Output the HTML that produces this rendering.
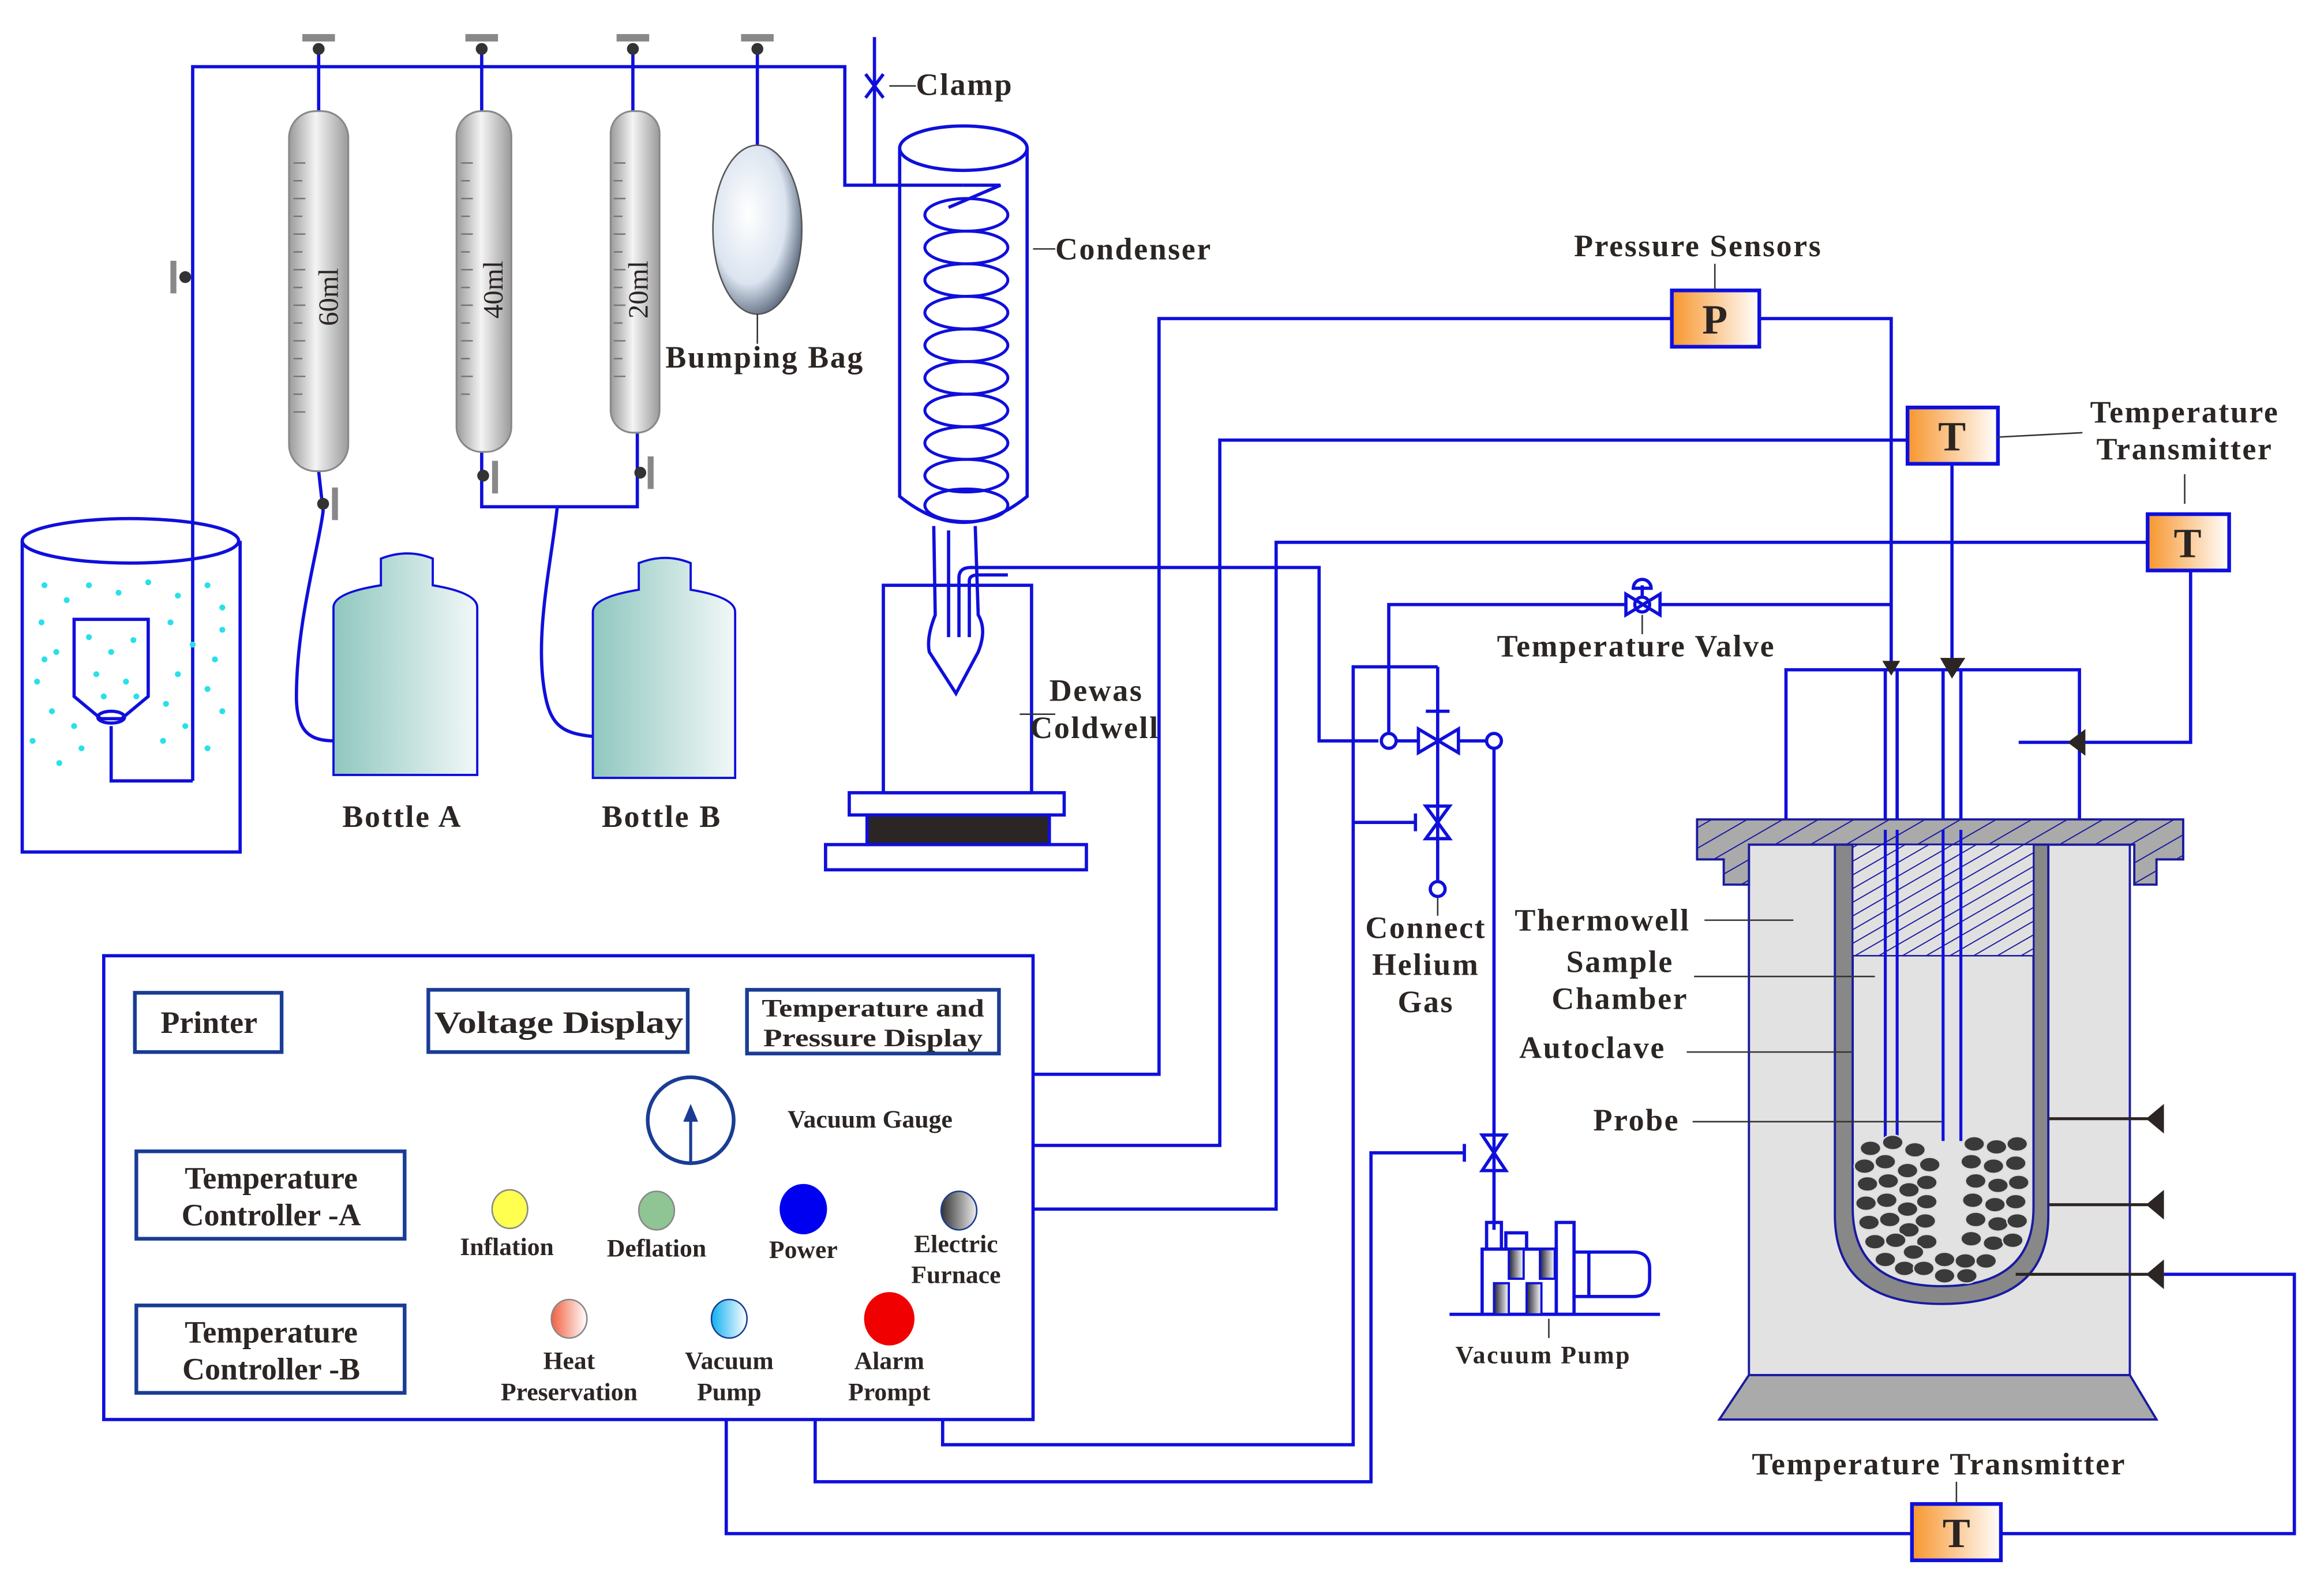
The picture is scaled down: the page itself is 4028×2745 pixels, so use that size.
<!DOCTYPE html>
<html><head><meta charset="utf-8"><style>
html,body{margin:0;padding:0;background:#fff}
svg{display:block}
text{font-family:"Liberation Serif",serif;font-weight:bold;fill:#2b2523}
</style></head><body>
<svg width="4028" height="2745" viewBox="0 0 1568 1069" preserveAspectRatio="none" xmlns="http://www.w3.org/2000/svg">
<defs>
<linearGradient id="gb" x1="0" x2="1"><stop offset="0" stop-color="#9a9a9a"/><stop offset="0.45" stop-color="#f4f4f4"/><stop offset="1" stop-color="#9a9a9a"/></linearGradient>
<linearGradient id="bt" x1="0" x2="1"><stop offset="0" stop-color="#8fc7bf"/><stop offset="1" stop-color="#f2f8f8"/></linearGradient>
<linearGradient id="or" x1="0" x2="1"><stop offset="0" stop-color="#f7962e"/><stop offset="1" stop-color="#fff"/></linearGradient>
<radialGradient id="bag" cx="0.4" cy="0.4" r="0.7"><stop offset="0" stop-color="#fff"/><stop offset="0.6" stop-color="#dbe4f0"/><stop offset="1" stop-color="#3a4a60"/></radialGradient>
<linearGradient id="gr" x1="0" x2="1"><stop offset="0" stop-color="#333"/><stop offset="1" stop-color="#eee"/></linearGradient>
<linearGradient id="hp" x1="0" x2="1"><stop offset="0" stop-color="#f26040"/><stop offset="1" stop-color="#fff"/></linearGradient>
<linearGradient id="vp" x1="0" x2="1"><stop offset="0" stop-color="#10b0f0"/><stop offset="1" stop-color="#fff"/></linearGradient>
<linearGradient id="pm" x1="0" x2="1"><stop offset="0" stop-color="#223"/><stop offset="1" stop-color="#fff"/></linearGradient>
<pattern id="hatch" width="12" height="12" patternUnits="userSpaceOnUse" patternTransform="rotate(-30)"><rect width="12" height="12" fill="#aaa"/><line x1="0" y1="0" x2="12" y2="0" stroke="#1a1aa0" stroke-width="1.5"/></pattern>
<pattern id="hatch2" width="8" height="8" patternUnits="userSpaceOnUse" patternTransform="rotate(60)"><rect width="8" height="8" fill="#e0e0e0"/><line x1="0" y1="0" x2="0" y2="8" stroke="#1a1aa0" stroke-width="1.5"/></pattern>
</defs>
<g fill="none" stroke="#0f0fdc" stroke-width="2.2">
<polyline points="130,527 130,45 570,45 570,125 650,125"/>
<polyline points="75,490 75,527 130,527"/>
<line x1="590" y1="25" x2="590" y2="125"/>
<path d="M584,50 L596,66 M596,50 L584,66"/>
<line x1="215" y1="30" x2="215" y2="80"/><line x1="325" y1="30" x2="325" y2="80"/><line x1="427" y1="30" x2="427" y2="80"/><line x1="511" y1="30" x2="511" y2="100"/>
<path d="M215,318 L218,345 C215,370 200,420 200,470 C200,495 210,500 226,500"/>
<polyline points="325,305 325,342 430,342 430,292"/>
<path d="M376,342 C372,380 360,430 368,470 C372,490 380,495 400,497"/>
<ellipse cx="88" cy="365" rx="73" ry="15"/>
<polyline points="15,365 15,575 162,575 162,365"/>
<path d="M50,418 L100,418 L100,470 L82,485 L68,485 L50,470 Z"/>
<ellipse cx="75" cy="484" rx="9" ry="4"/>
<ellipse cx="650" cy="100" rx="43" ry="15"/>
<path d="M607,100 L607,335 Q650,370 693,335 L693,100"/>
<path d="M650,125 L675,125 L640,140"/>
<g stroke-width="2">
<ellipse cx="652" cy="145" rx="28" ry="11"/><ellipse cx="652" cy="167" rx="28" ry="11"/><ellipse cx="652" cy="189" rx="28" ry="11"/><ellipse cx="652" cy="211" rx="28" ry="11"/><ellipse cx="652" cy="233" rx="28" ry="11"/><ellipse cx="652" cy="255" rx="28" ry="11"/><ellipse cx="652" cy="277" rx="28" ry="11"/><ellipse cx="652" cy="299" rx="28" ry="11"/><ellipse cx="652" cy="321" rx="28" ry="11"/><ellipse cx="652" cy="341" rx="28" ry="11"/>
</g>
<path d="M630,355 L631,415 Q625,430 627,440 L645,468 L660,440 Q666,425 660,415 L658,355"/>
<line x1="640" y1="358" x2="640" y2="430"/>
<path d="M647,430 L647,390 Q647,383 655,383 L695,383 L890,383 L890,500 L930,500"/>
<path d="M654,430 L654,392 Q654,388 660,388 L680,388"/>
<rect x="596" y="395" width="100" height="140"/>
<rect x="573" y="535" width="145" height="15"/>
<rect x="585" y="550" width="123" height="20" fill="#2b2523"/>
<rect x="557" y="570" width="176" height="17"/>
<rect x="70" y="645" width="627" height="313"/>
<polyline points="697,725 782,725 782,215 1128,215"/>
<polyline points="1187,215 1276,215 1276,448"/>
<polyline points="697,773 823,773 823,297 1287,297"/>
<line x1="1317" y1="313" x2="1317" y2="448"/>
<polyline points="697,816 861,816 861,366 1449,366"/>
<polyline points="1478,385 1478,501 1405,501"/>
<line x1="1362" y1="501" x2="1400" y2="501"/>
<polyline points="937,494 937,408 1097,408"/><line x1="1120" y1="408" x2="1276" y2="408"/>
<circle cx="937" cy="500" r="5"/><circle cx="1008" cy="500" r="5"/>
<line x1="942" y1="500" x2="957" y2="500"/><line x1="984" y1="500" x2="1003" y2="500"/>
<path d="M957,492 L957,508 L984,492 L984,508 Z"/>
<line x1="970" y1="450" x2="970" y2="594"/><line x1="962" y1="480" x2="978" y2="480"/>
<circle cx="970" cy="600" r="5"/>
<path d="M962,544 L978,544 L962,566 L978,566 Z"/>
<line x1="913" y1="555" x2="955" y2="555"/><line x1="955" y1="549" x2="955" y2="561"/>
<polyline points="970,450 913,450 913,975 636,975 636,958"/>
<line x1="1008" y1="505" x2="1008" y2="830"/>
<path d="M1000,766 L1016,766 L1000,790 L1016,790 Z"/>
<polyline points="988,778 925,778 925,1000 550,1000 550,958"/><line x1="988" y1="772" x2="988" y2="784"/>
<polyline points="490,958 490,1035 1290,1035"/>
<polyline points="1350,1035 1548,1035 1548,860 1460,860"/>
<path d="M1097,401 L1097,415 L1120,401 L1120,415 Z"/><circle cx="1108" cy="408" r="5"/>
<line x1="1108" y1="395" x2="1108" y2="402"/><path d="M1102,397 A6,6 0 0 1 1114,397 Z"/>
<polyline points="1205,553 1205,452 1403,452 1403,553"/>
<line x1="1272" y1="452" x2="1272" y2="760"/><line x1="1280" y1="452" x2="1280" y2="760"/>
<line x1="1311" y1="452" x2="1311" y2="760"/><line x1="1323" y1="452" x2="1323" y2="760"/>
<line x1="978" y1="887" x2="1120" y2="887"/>
<rect x="1003" y="825" width="10" height="18"/><rect x="1016" y="832" width="14" height="11"/>
<rect x="1000" y="843" width="50" height="44"/><rect x="1050" y="825" width="12" height="62"/>
<path d="M1062,845 L1102,845 Q1113,845 1113,856 L1113,863 Q1113,875 1102,875 L1062,875"/>
<line x1="1072" y1="845" x2="1072" y2="875"/>
</g>
<g fill="url(#pm)" stroke="#0f0fdc" stroke-width="1.5"><rect x="1018" y="843" width="10" height="20"/><rect x="1039" y="843" width="10" height="20"/><rect x="1008" y="866" width="10" height="21"/><rect x="1030" y="866" width="10" height="21"/></g>
<g fill="#333"><rect x="204" y="23" width="22" height="5" fill="#888"/><circle cx="215" cy="33" r="4"/>
<rect x="314" y="23" width="22" height="5" fill="#888"/><circle cx="325" cy="33" r="4"/>
<rect x="416" y="23" width="22" height="5" fill="#888"/><circle cx="427" cy="33" r="4"/>
<rect x="500" y="23" width="22" height="5" fill="#888"/><circle cx="511" cy="33" r="4"/>
<rect x="115" y="176" width="4" height="22" fill="#888"/><circle cx="125" cy="187" r="4"/>
<rect x="224" y="329" width="4" height="22" fill="#888"/><circle cx="218" cy="340" r="4"/>
<rect x="332" y="311" width="4" height="22" fill="#888"/><circle cx="326" cy="321" r="4"/>
<rect x="437" y="308" width="4" height="22" fill="#888"/><circle cx="432" cy="319" r="4"/></g>
<g stroke="#888" stroke-width="1.2" fill="url(#gb)">
<rect x="195" y="75" width="40" height="243" rx="18"/>
<rect x="308" y="75" width="37" height="230" rx="17"/>
<rect x="412" y="75" width="33" height="217" rx="15"/>
</g>
<g stroke="#777" stroke-width="1"><path d="M198,110h8M198,122h6M198,134h8M198,146h6M198,158h8M198,170h6M198,182h8M198,194h6M198,206h8M198,218h6M198,230h8M198,242h6M198,254h8M198,266h6M198,278h8M311,110h8M311,122h6M311,134h8M311,146h6M311,158h8M311,170h6M311,182h8M311,194h6M311,206h8M311,218h6M311,230h8M311,242h6M311,254h8M311,266h6M414,110h8M414,122h6M414,134h8M414,146h6M414,158h8M414,170h6M414,182h8M414,194h6M414,206h8M414,218h6M414,230h8M414,242h6M414,254h8"/></g>
<text transform="translate(228,220) rotate(-90)" font-size="19" style="font-weight:normal">60ml</text>
<text transform="translate(339,215) rotate(-90)" font-size="19" style="font-weight:normal">40ml</text>
<text transform="translate(437,215) rotate(-90)" font-size="19" style="font-weight:normal">20ml</text>
<ellipse cx="511" cy="155" rx="30" ry="57" fill="url(#bag)" stroke="#555" stroke-width="1"/>
<path d="M257,377 Q275,370 292,377 L292,395 Q322,400 322,410 L322,523 L225,523 L225,410 Q225,400 257,395 Z" fill="url(#bt)" stroke="#0f0fdc" stroke-width="1.5"/>
<path d="M431,380 Q449,373 466,380 L466,398 Q496,403 496,413 L496,525 L400,525 L400,413 Q400,403 431,398 Z" fill="url(#bt)" stroke="#0f0fdc" stroke-width="1.5"/>
<g fill="#28e0e8">
<circle cx="30" cy="395" r="2"/><circle cx="45" cy="405" r="2"/><circle cx="60" cy="395" r="2"/><circle cx="80" cy="400" r="2"/><circle cx="100" cy="393" r="2"/><circle cx="120" cy="402" r="2"/><circle cx="140" cy="395" r="2"/><circle cx="150" cy="410" r="2"/><circle cx="28" cy="420" r="2"/><circle cx="38" cy="440" r="2"/><circle cx="25" cy="460" r="2"/><circle cx="35" cy="480" r="2"/><circle cx="22" cy="500" r="2"/><circle cx="40" cy="515" r="2"/><circle cx="55" cy="505" r="2"/><circle cx="50" cy="490" r="2"/><circle cx="115" cy="420" r="2"/><circle cx="130" cy="435" r="2"/><circle cx="145" cy="445" r="2"/><circle cx="120" cy="455" r="2"/><circle cx="140" cy="465" r="2"/><circle cx="112" cy="475" r="2"/><circle cx="150" cy="480" r="2"/><circle cx="125" cy="490" r="2"/><circle cx="140" cy="505" r="2"/><circle cx="110" cy="500" r="2"/><circle cx="60" cy="430" r="2"/><circle cx="75" cy="440" r="2"/><circle cx="90" cy="432" r="2"/><circle cx="65" cy="455" r="2"/><circle cx="85" cy="460" r="2"/><circle cx="70" cy="470" r="2"/><circle cx="92" cy="470" r="2"/><circle cx="150" cy="425" r="2"/><circle cx="30" cy="445" r="2"/>
</g>
<rect x="1180" y="570" width="257" height="358" fill="#e2e2e2" stroke="#1a1aa0" stroke-width="1.5"/>
<path d="M1145,553 L1473,553 L1473,580 L1455,580 L1455,597 L1440,597 L1440,570 L1180,570 L1180,597 L1163,597 L1163,580 L1145,580 Z" fill="url(#hatch)" stroke="#1a1aa0" stroke-width="1.5"/>
<path d="M1180,928 L1437,928 L1455,958 L1160,958 Z" fill="#aaa" stroke="#1a1aa0" stroke-width="1.5"/>
<path d="M1238,570 L1238,820 Q1238,880 1310,880 Q1382,880 1382,820 L1382,570 L1372,570 L1372,815 Q1372,868 1310,868 Q1250,868 1250,815 L1250,570 Z" fill="#888" stroke="#1a1aa0" stroke-width="1.5"/>
<rect x="1250" y="570" width="122" height="75" fill="url(#hatch2)" stroke="#1a1aa0" stroke-width="1"/>
<g fill="none" stroke="#0f0fdc" stroke-width="2"><line x1="1272" y1="560" x2="1272" y2="770"/><line x1="1280" y1="560" x2="1280" y2="770"/><line x1="1311" y1="560" x2="1311" y2="770"/><line x1="1323" y1="560" x2="1323" y2="770"/></g>
<g fill="#3a3a3a" stroke="#ddd" stroke-width="1">
<ellipse cx="1262" cy="775" rx="7" ry="5"/><ellipse cx="1277" cy="771" rx="7" ry="5"/><ellipse cx="1292" cy="776" rx="7" ry="5"/><ellipse cx="1302" cy="786" rx="7" ry="5"/>
<ellipse cx="1258" cy="787" rx="7" ry="5"/><ellipse cx="1272" cy="784" rx="7" ry="5"/><ellipse cx="1287" cy="790" rx="7" ry="5"/><ellipse cx="1300" cy="798" rx="7" ry="5"/>
<ellipse cx="1260" cy="799" rx="7" ry="5"/><ellipse cx="1274" cy="797" rx="7" ry="5"/><ellipse cx="1288" cy="803" rx="7" ry="5"/><ellipse cx="1300" cy="811" rx="7" ry="5"/>
<ellipse cx="1259" cy="812" rx="7" ry="5"/><ellipse cx="1273" cy="810" rx="7" ry="5"/><ellipse cx="1287" cy="816" rx="7" ry="5"/><ellipse cx="1299" cy="824" rx="7" ry="5"/>
<ellipse cx="1261" cy="825" rx="7" ry="5"/><ellipse cx="1275" cy="823" rx="7" ry="5"/><ellipse cx="1288" cy="830" rx="7" ry="5"/><ellipse cx="1300" cy="838" rx="7" ry="5"/>
<ellipse cx="1265" cy="838" rx="7" ry="5"/><ellipse cx="1279" cy="837" rx="7" ry="5"/><ellipse cx="1291" cy="845" rx="7" ry="5"/><ellipse cx="1272" cy="850" rx="7" ry="5"/><ellipse cx="1285" cy="856" rx="7" ry="5"/><ellipse cx="1298" cy="856" rx="7" ry="5"/>
<ellipse cx="1332" cy="772" rx="7" ry="5"/><ellipse cx="1347" cy="774" rx="7" ry="5"/><ellipse cx="1361" cy="772" rx="7" ry="5"/>
<ellipse cx="1330" cy="784" rx="7" ry="5"/><ellipse cx="1345" cy="787" rx="7" ry="5"/><ellipse cx="1360" cy="785" rx="7" ry="5"/>
<ellipse cx="1333" cy="797" rx="7" ry="5"/><ellipse cx="1348" cy="800" rx="7" ry="5"/><ellipse cx="1362" cy="798" rx="7" ry="5"/>
<ellipse cx="1331" cy="810" rx="7" ry="5"/><ellipse cx="1346" cy="813" rx="7" ry="5"/><ellipse cx="1360" cy="811" rx="7" ry="5"/>
<ellipse cx="1333" cy="823" rx="7" ry="5"/><ellipse cx="1348" cy="826" rx="7" ry="5"/><ellipse cx="1361" cy="824" rx="7" ry="5"/>
<ellipse cx="1330" cy="836" rx="7" ry="5"/><ellipse cx="1345" cy="839" rx="7" ry="5"/><ellipse cx="1358" cy="837" rx="7" ry="5"/>
<ellipse cx="1312" cy="850" rx="7" ry="5"/><ellipse cx="1326" cy="851" rx="7" ry="5"/><ellipse cx="1340" cy="851" rx="7" ry="5"/><ellipse cx="1312" cy="861" rx="7" ry="5"/><ellipse cx="1327" cy="861" rx="7" ry="5"/>
</g>
<g fill="#2b2523"><path d="M1270,446 L1282,446 L1276,456 Z"/><path d="M1309,444 L1326,444 L1317,458 Z"/><path d="M1395,501 L1407,492 L1407,510 Z"/>
<path d="M1448,755 L1460,745 L1460,765 Z"/><path d="M1448,813 L1460,803 L1460,823 Z"/><path d="M1448,860 L1460,850 L1460,870 Z"/></g>
<g stroke="#2b2523" stroke-width="2"><line x1="1382" y1="755" x2="1450" y2="755"/><line x1="1382" y1="813" x2="1450" y2="813"/><line x1="1360" y1="860" x2="1450" y2="860"/></g>
<g stroke="#0f0fdc" stroke-width="2.5" fill="url(#or)"><rect x="1128" y="196" width="59" height="38"/><rect x="1287" y="275" width="61" height="38"/><rect x="1449" y="347" width="55" height="38"/><rect x="1290" y="1015" width="60" height="38"/></g>
<g font-size="28" text-anchor="middle"><text x="1157" y="225">P</text><text x="1317" y="304">T</text><text x="1476" y="376">T</text><text x="1320" y="1044">T</text></g>
<g fill="none" stroke="#1a3c94" stroke-width="2.5"><rect x="91" y="670" width="99" height="40"/><rect x="289" y="668" width="175" height="42"/><rect x="504" y="668" width="170" height="43"/><rect x="92" y="777" width="181" height="59"/><rect x="92" y="881" width="181" height="59"/><circle cx="466" cy="756" r="29"/></g>
<line x1="466" y1="784" x2="466" y2="755" stroke="#1a3c94" stroke-width="2"/><path d="M461,757 L466,745 L471,757 Z" fill="#1a3c94"/>
<ellipse cx="344" cy="816" rx="12" ry="13" fill="#ffff50" stroke="#888"/>
<ellipse cx="443" cy="817" rx="12" ry="13" fill="#8fc494" stroke="#888"/>
<ellipse cx="542" cy="816" rx="16" ry="17" fill="#0000f0"/>
<ellipse cx="647" cy="817" rx="12" ry="13" fill="url(#gr)" stroke="#1a3c94"/>
<ellipse cx="384" cy="890" rx="12" ry="13" fill="url(#hp)" stroke="#888"/>
<ellipse cx="492" cy="890" rx="12" ry="13" fill="url(#vp)" stroke="#1a3c94"/>
<ellipse cx="600" cy="890" rx="17" ry="18" fill="#f00000"/>
<g font-size="21" text-anchor="middle">
<text x="141" y="697">Printer</text>
<text x="377" y="697" textLength="168" lengthAdjust="spacingAndGlyphs">Voltage Display</text>
<text x="589" y="686" font-size="17" textLength="150" lengthAdjust="spacingAndGlyphs">Temperature and</text>
<text x="589" y="706" font-size="17" textLength="148" lengthAdjust="spacingAndGlyphs">Pressure Display</text>
<text x="183" y="802">Temperature</text><text x="183" y="827">Controller -A</text>
<text x="183" y="906">Temperature</text><text x="183" y="931">Controller -B</text>
<g font-size="17"><text x="587" y="761">Vacuum Gauge</text>
<text x="342" y="847">Inflation</text><text x="443" y="848">Deflation</text><text x="542" y="849">Power</text>
<text x="645" y="845">Electric</text><text x="645" y="866">Furnace</text>
<text x="384" y="924">Heat</text><text x="384" y="945">Preservation</text>
<text x="492" y="924">Vacuum</text><text x="492" y="945">Pump</text>
<text x="600" y="924">Alarm</text><text x="600" y="945">Prompt</text></g>
</g>
<g stroke="#333" stroke-width="1"><line x1="600" y1="58" x2="618" y2="58"/><line x1="697" y1="168" x2="712" y2="168"/><line x1="511" y1="212" x2="511" y2="232"/>
<line x1="688" y1="482" x2="712" y2="482"/><line x1="1157" y1="178" x2="1157" y2="196"/><line x1="1348" y1="295" x2="1405" y2="292"/><line x1="1474" y1="320" x2="1474" y2="340"/><line x1="1108" y1="415" x2="1108" y2="428"/>
<line x1="970" y1="606" x2="970" y2="618"/><line x1="1150" y1="621" x2="1210" y2="621"/><line x1="1143" y1="659" x2="1265" y2="659"/><line x1="1138" y1="710" x2="1250" y2="710"/><line x1="1142" y1="757" x2="1310" y2="757"/>
<line x1="1045" y1="890" x2="1045" y2="903"/><line x1="1320" y1="1000" x2="1320" y2="1015"/></g>
<g font-size="21" letter-spacing="1">
<text x="618" y="64">Clamp</text>
<text x="712" y="175">Condenser</text>
<text x="449" y="248">Bumping Bag</text>
<text x="1062" y="173">Pressure Sensors</text>
<text x="1474" y="285" text-anchor="middle">Temperature</text><text x="1474" y="310" text-anchor="middle">Transmitter</text>
<text x="1010" y="443">Temperature Valve</text>
<text x="708" y="473">Dewas</text><text x="695" y="498">Coldwell</text>
<text x="231" y="558">Bottle A</text><text x="406" y="558">Bottle B</text>
<text x="962" y="633" text-anchor="middle">Connect</text><text x="962" y="658" text-anchor="middle">Helium</text><text x="962" y="683" text-anchor="middle">Gas</text>
<text x="1022" y="628">Thermowell</text>
<text x="1093" y="656" text-anchor="middle">Sample</text><text x="1093" y="681" text-anchor="middle">Chamber</text>
<text x="1025" y="714">Autoclave</text>
<text x="1075" y="763">Probe</text>
<text x="1182" y="995">Temperature Transmitter</text>
<text x="982" y="920" font-size="17">Vacuum Pump</text>
</g>
</svg>
</body></html>
